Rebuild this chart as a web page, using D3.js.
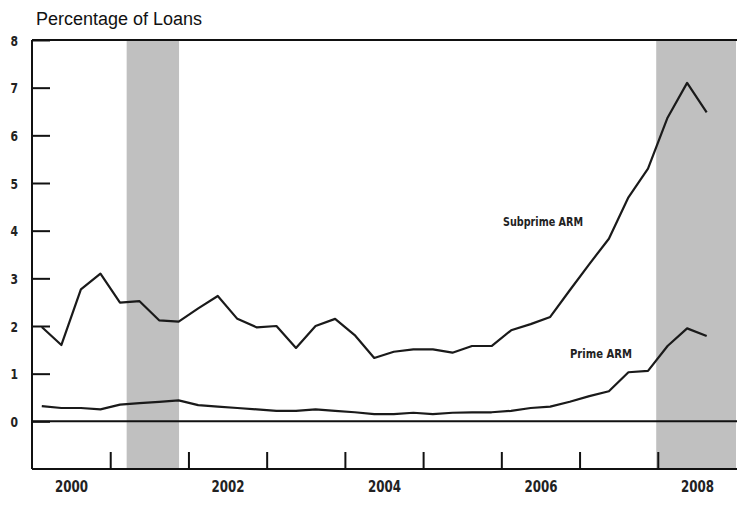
<!doctype html>
<html lang="en">
<head>
<meta charset="utf-8">
<title>Percentage of Loans</title>
<script src="https://cdn.jsdelivr.net/npm/d3@7"></script>
<style>
  body { margin: 0; background: #fff; }
  .title { font-family: "Liberation Sans", Arial, sans-serif; font-size: 18px; fill: #111; }
  .lbl { font-family: "DejaVu Sans Condensed", "DejaVu Sans", sans-serif; font-weight: bold; fill: #222; }
</style>
</head>
<body>
<svg id="chart" width="737" height="506"></svg>
<script>
// quarterly delinquency rates, Q1 2000 .. Q3 2008
const quarters = [
  '2000Q1','2000Q2','2000Q3','2000Q4','2001Q1','2001Q2','2001Q3','2001Q4',
  '2002Q1','2002Q2','2002Q3','2002Q4','2003Q1','2003Q2','2003Q3','2003Q4',
  '2004Q1','2004Q2','2004Q3','2004Q4','2005Q1','2005Q2','2005Q3','2005Q4',
  '2006Q1','2006Q2','2006Q3','2006Q4','2007Q1','2007Q2','2007Q3','2007Q4',
  '2008Q1','2008Q2','2008Q3'
];
const subprime = [
  1.98, 1.60, 2.77, 3.10, 2.49, 2.52, 2.12, 2.09,
  2.37, 2.63, 2.15, 1.97, 2.00, 1.54, 2.00, 2.15,
  1.81, 1.33, 1.46, 1.51, 1.51, 1.44, 1.58, 1.58,
  1.91, 2.04, 2.19, 2.75, 3.30, 3.83, 4.70, 5.30,
  6.37, 7.10, 6.48
];
const prime = [
  0.32, 0.28, 0.28, 0.25, 0.35, 0.38, 0.41, 0.44,
  0.34, 0.31, 0.28, 0.25, 0.22, 0.22, 0.25, 0.22,
  0.19, 0.15, 0.15, 0.18, 0.15, 0.18, 0.19, 0.19,
  0.22, 0.28, 0.31, 0.41, 0.53, 0.63, 1.03, 1.06,
  1.58, 1.95, 1.79
];
const recessions = [[2001.21, 2001.88], [2007.98, 2009]];
const yTicks = [0, 1, 2, 3, 4, 5, 6, 7, 8];
const yearTicks = [2001, 2002, 2003, 2004, 2005, 2006, 2007, 2008];
const yearLabels = [2000, 2002, 2004, 2006, 2008];

const svg = d3.select('#chart');
const mLeft = 32, mRight = 736, mTop = 40, mBottom = 469;

const x = d3.scaleLinear().domain([2000, 2009]).range([mLeft, mRight]);
const y = d3.scaleLinear().domain([-1, 8]).range([mBottom, mTop]);

// quarter label -> mid-quarter decimal year
const qx = q => +q.slice(0, 4) + (+q.slice(5) - 1) * 0.25 + 0.125;

svg.selectAll('rect.rec')
    .data(recessions)
  .enter().append('rect')
    .attr('class', 'rec')
    .attr('x', d => x(d[0]))
    .attr('width', d => x(d[1]) - x(d[0]))
    .attr('y', mTop)
    .attr('height', mBottom - mTop)
    .style('fill', '#c0c0c0');

// frame lines: top and zero
const hline = (v, w) => svg.append('line')
    .attr('x1', mLeft).attr('x2', 737)
    .attr('y1', y(v)).attr('y2', y(v))
    .style('stroke', '#111').style('stroke-width', w);
hline(8, 2);
hline(0, 2);

const yAxis = d3.axisLeft(y)
    .tickValues(yTicks)
    .tickSizeInner(-18)
    .tickSizeOuter(0)
    .tickPadding(14)
    .tickFormat(d3.format('d'));
const ga = svg.append('g')
    .attr('transform', 'translate(' + mLeft + ',0)')
    .call(yAxis);
ga.select('.domain').attr('d', 'M0,' + mTop + 'V' + mBottom).style('stroke', '#111').style('stroke-width', 2);
ga.selectAll('.tick line').style('stroke', '#111').style('stroke-width', 2);
ga.selectAll('.tick text').attr('class', 'lbl').style('font-size', '14.5px')
    .attr('dy', '0.36em')
    .attr('textLength', 7.5).attr('lengthAdjust', 'spacingAndGlyphs');

const xAxis = d3.axisBottom(x)
    .tickValues(yearTicks)
    .tickSizeInner(-17)
    .tickSizeOuter(0)
    .tickFormat('');
const gx = svg.append('g')
    .attr('transform', 'translate(0,' + mBottom + ')')
    .call(xAxis);
gx.select('.domain').attr('d', 'M' + mLeft + ',0H737').style('stroke', '#111').style('stroke-width', 2);
gx.selectAll('.tick line').style('stroke', '#111').style('stroke-width', 2);

const xLab = d3.axisBottom(x)
    .tickValues(yearLabels.map(d => d + 0.5))
    .tickSize(0)
    .tickFormat(d => Math.floor(d));
const gl = svg.append('g')
    .attr('transform', 'translate(0,' + mBottom + ')')
    .call(xLab);
gl.select('.domain').remove();
gl.selectAll('.tick text').attr('class', 'lbl').style('font-size', '15px')
    .attr('y', 23).attr('dy', 0)
    .attr('textLength', 33).attr('lengthAdjust', 'spacingAndGlyphs');

const line = d3.line()
    .x((d, i) => x(qx(quarters[i])))
    .y(d => y(d));

[subprime, prime].forEach(s => {
  svg.append('path')
      .datum(s)
      .attr('d', line)
      .style('fill', 'none')
      .style('stroke', '#1a1a1a')
      .style('stroke-width', 2.2)
      .style('stroke-linejoin', 'round');
});

svg.append('text').attr('class', 'lbl').style('font-size', '13px')
    .attr('x', 503).attr('y', 226)
    .attr('textLength', 80).attr('lengthAdjust', 'spacingAndGlyphs')
    .text('Subprime ARM');
svg.append('text').attr('class', 'lbl').style('font-size', '13px')
    .attr('x', 570).attr('y', 358)
    .attr('textLength', 62).attr('lengthAdjust', 'spacingAndGlyphs')
    .text('Prime ARM');

svg.append('text').attr('class', 'title')
    .attr('x', 36).attr('y', 25).text('Percentage of Loans');
</script>
</body>
</html>
